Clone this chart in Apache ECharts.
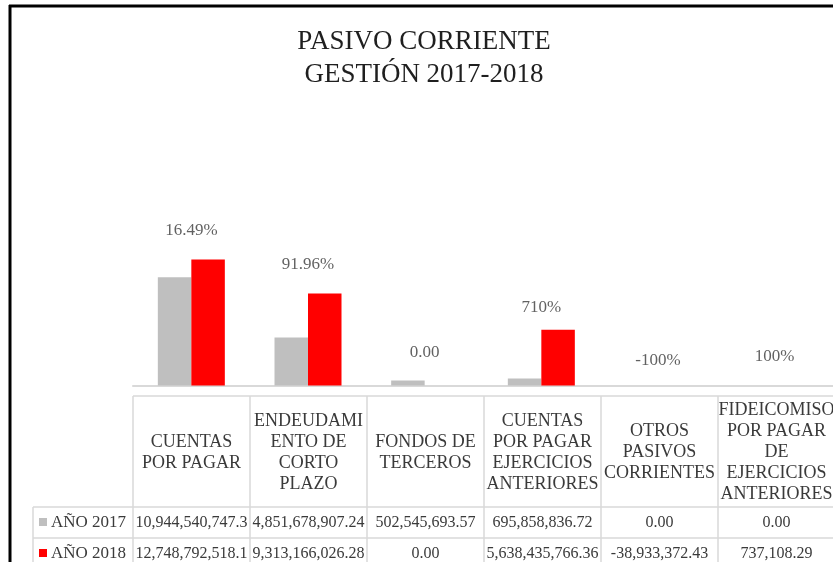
<!DOCTYPE html>
<html>
<head>
<meta charset="utf-8">
<title>Pasivo corriente 2017-2018</title>
<script src="https://cdn.jsdelivr.net/npm/echarts@6/dist/echarts.min.js"></script>
<style>
  html, body { margin: 0; padding: 0; background: #fff; }
  #chart { width: 833px; height: 562px; }
</style>
</head>
<body>
<div id="chart"></div>
<script>
// Categories as shown in the data table header (manual line breaks)
const categories = [
  'CUENTAS\nPOR PAGAR',
  'ENDEUDAMI\nENTO DE\nCORTO\nPLAZO',
  'FONDOS DE\nTERCEROS',
  'CUENTAS\nPOR PAGAR\nEJERCICIOS\nANTERIORES',
  'OTROS\nPASIVOS\nCORRIENTES',
  'FIDEICOMISO\nPOR PAGAR\nDE\nEJERCICIOS\nANTERIORES'
];
const seriesNames = ['AÑO 2017', 'AÑO 2018'];
const values2017 = [10944540747.30, 4851678907.24, 502545693.57, 695858836.72, 0.00, 0.00];
const values2018 = [12748792518.10, 9313166026.28, 0.00, 5638435766.36, -38933372.43, 737108.29];
// Variation labels written above each group
const variationLabels = ['16.49%', '91.96%', '0.00', '710%', '-100%', '100%'];

const GREY = '#BFBFBF';
const RED = '#FF0000';
const TEXT = '#3a3a3a';
const LINE = '#D9D9D9';
const SERIF = '"Liberation Serif", "DejaVu Serif", serif';

// Small vertical nudges (px) for individual variation labels
const labelNudge = [0, 0, 0, 6, 4, 0];

// Plot / table geometry
const gridLeft = 133;
const catW = 117;
const tableTop = 396;
const headerBottom = 507;
const rowH = 31;

const fmtNum = new Intl.NumberFormat('en-US', { minimumFractionDigits: 2, maximumFractionDigits: 2 });
// Cells are narrow: long numbers overflow and lose their last character
function cellText(v) {
  let s = fmtNum.format(v);
  if (s.length > 16) s = s.slice(0, 16);
  return s;
}

const labelAnchor = values2017.map((v, i) => ({
  value: Math.max(v, values2018[i], 0),
  label: { offset: [0, labelNudge[i]] }
}));

const graphics = [];
// Outer chart frame (left and top edges visible)
graphics.push({ type: 'line', shape: { x1: 10, y1: 5, x2: 10, y2: 562 }, style: { stroke: '#000', lineWidth: 3 }, z: 10 });
graphics.push({ type: 'line', shape: { x1: 9, y1: 6, x2: 833, y2: 6 }, style: { stroke: '#000', lineWidth: 3 }, z: 10 });

const nCols = categories.length;
const tableRight = gridLeft + catW * nCols;
const rowLeft = 33;
const tableBottom = headerBottom + rowH * 2;

// Horizontal table lines
graphics.push({ type: 'line', shape: { x1: gridLeft, y1: tableTop, x2: tableRight, y2: tableTop }, style: { stroke: LINE, lineWidth: 1.5 } });
graphics.push({ type: 'line', shape: { x1: rowLeft, y1: headerBottom, x2: tableRight, y2: headerBottom }, style: { stroke: LINE, lineWidth: 1.5 } });
graphics.push({ type: 'line', shape: { x1: rowLeft, y1: headerBottom + rowH, x2: tableRight, y2: headerBottom + rowH }, style: { stroke: LINE, lineWidth: 1.5 } });
graphics.push({ type: 'line', shape: { x1: rowLeft, y1: tableBottom, x2: tableRight, y2: tableBottom }, style: { stroke: LINE, lineWidth: 1.5 } });
// Vertical table lines
graphics.push({ type: 'line', shape: { x1: rowLeft, y1: headerBottom, x2: rowLeft, y2: tableBottom }, style: { stroke: LINE, lineWidth: 1.5 } });
for (let i = 0; i <= nCols; i++) {
  const x = gridLeft + catW * i;
  graphics.push({ type: 'line', shape: { x1: x, y1: tableTop, x2: x, y2: tableBottom }, style: { stroke: LINE, lineWidth: 1.5 } });
}
// Header cells
categories.forEach((c, i) => {
  graphics.push({
    type: 'text',
    style: {
      text: c, x: gridLeft + catW * (i + 0.5), y: (tableTop + headerBottom) / 2 + 1,
      align: 'center', verticalAlign: 'middle',
      fontFamily: SERIF, fontSize: 18, lineHeight: 21, fill: TEXT
    }
  });
});
// Value rows with legend keys
[values2017, values2018].forEach((vals, r) => {
  const cy = headerBottom + rowH * (r + 0.5);
  graphics.push({ type: 'rect', shape: { x: 39, y: cy - 4.5, width: 8, height: 8 }, style: { fill: r === 0 ? GREY : RED } });
  graphics.push({
    type: 'text',
    style: { text: seriesNames[r], x: 51, y: cy, align: 'left', verticalAlign: 'middle', fontFamily: SERIF, fontSize: 17, fill: TEXT }
  });
  vals.forEach((v, i) => {
    graphics.push({
      type: 'text',
      style: {
        text: cellText(v), x: gridLeft + catW * (i + 0.5), y: cy,
        align: 'center', verticalAlign: 'middle', fontFamily: SERIF, fontSize: 16, fill: TEXT
      }
    });
  });
});

const chart = echarts.init(document.getElementById('chart'), null, { renderer: 'canvas' });
chart.setOption({
  animation: false,
  backgroundColor: '#ffffff',
  title: {
    text: 'PASIVO CORRIENTE\nGESTIÓN 2017-2018',
    left: 419,
    top: 20,
    textAlign: 'center',
    textStyle: { fontFamily: SERIF, fontSize: 27, lineHeight: 33, fontWeight: 'normal', color: '#1f1f1f' }
  },
  grid: { left: gridLeft, right: 833 - tableRight, top: 247.1, bottom: 176.5 },
  xAxis: {
    type: 'category',
    data: categories,
    axisLine: { onZero: true, lineStyle: { color: LINE, width: 2 } },
    axisTick: { show: false },
    axisLabel: { show: false }
  },
  yAxis: {
    type: 'value',
    min: 0,
    max: 14e9,
    show: false
  },
  series: [
    {
      name: seriesNames[0], type: 'bar', data: values2017,
      barWidth: 33.5, barGap: '0%', clip: true,
      itemStyle: { color: GREY }
    },
    {
      name: seriesNames[1], type: 'bar', data: values2018,
      barWidth: 33.5, barGap: '0%', clip: true,
      itemStyle: { color: RED }
    },
    {
      name: 'variación', type: 'scatter', data: labelAnchor,
      symbolSize: 0, silent: true, clip: false,
      label: {
        show: true, position: 'top', distance: 20,
        formatter: p => variationLabels[p.dataIndex],
        fontFamily: SERIF, fontSize: 17, color: TEXT
      }
    }
  ],
  graphic: graphics
});
</script>
</body>
</html>
